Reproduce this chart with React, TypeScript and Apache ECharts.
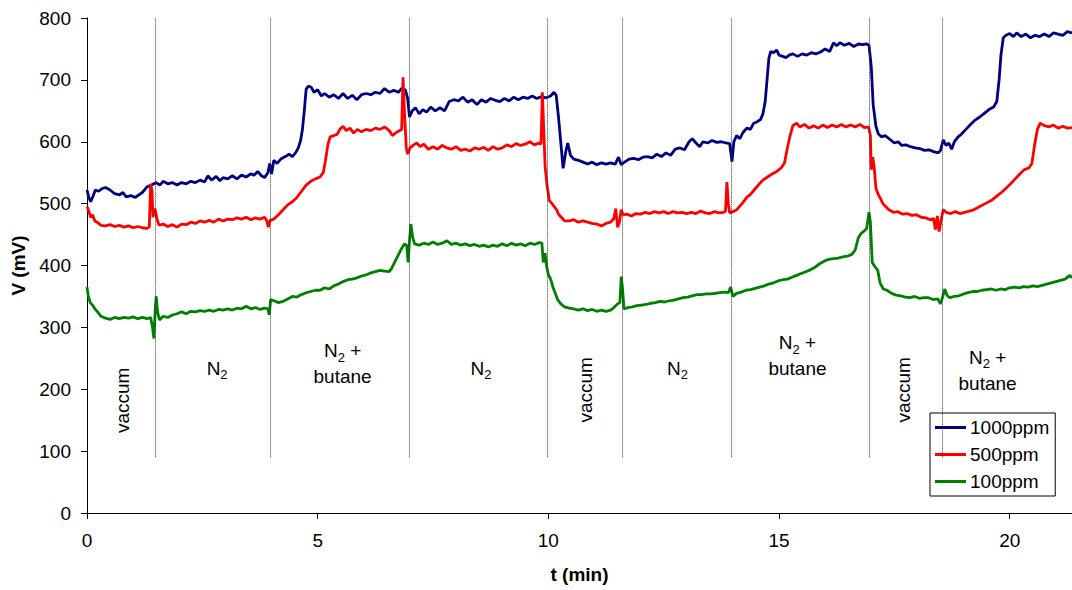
import React, { useEffect, useRef } from "react";
import * as echarts from "echarts";

// time (min), voltage (mV)
const series1000: number[][] = [
  [0,522],[0.04,510],[0.08,503],[0.13,512],[0.18,522],[0.25,520],[0.32,524],[0.4,526],[0.5,522],[0.6,516],[0.7,514],[0.78,518],[0.85,511],[0.95,513],[1.05,510],[1.12,514],[1.2,518],[1.3,527],[1.4,530],[1.5,534],[1.58,530],[1.65,536],[1.75,532],[1.85,534],[1.95,530],[2.05,534],[2.15,532],[2.25,536],[2.35,534],[2.45,538],[2.55,535],[2.62,545],[2.7,538],[2.8,544],[2.88,537],[2.95,542],[3.05,540],[3.15,545],[3.25,540],[3.35,546],[3.45,543],[3.55,548],[3.62,546],[3.7,552],[3.78,545],[3.85,542],[3.92,550],[3.96,565],[4.0,548],[4.05,570],[4.12,565],[4.2,572],[4.3,576],[4.38,580],[4.45,576],[4.52,582],[4.58,590],[4.63,602],[4.67,620],[4.71,650],[4.75,685],[4.8,690],[4.86,688],[4.92,680],[5.0,684],[5.08,674],[5.15,678],[5.25,672],[5.35,676],[5.45,670],[5.55,678],[5.65,670],[5.75,675],[5.85,668],[5.95,676],[6.05,678],[6.15,676],[6.25,680],[6.35,678],[6.45,686],[6.55,680],[6.65,683],[6.75,680],[6.82,686],[6.9,684],[6.95,670],[6.99,640],[7.05,650],[7.12,655],[7.2,645],[7.28,652],[7.36,648],[7.45,656],[7.55,650],[7.65,655],[7.75,650],[7.85,665],[7.95,668],[8.05,666],[8.15,672],[8.25,664],[8.35,668],[8.45,660],[8.55,668],[8.65,664],[8.75,670],[8.85,667],[8.95,665],[9.05,670],[9.15,666],[9.25,672],[9.35,668],[9.45,672],[9.55,670],[9.65,674],[9.75,670],[9.85,673],[9.95,671],[10.05,674],[10.12,680],[10.17,675],[10.22,640],[10.27,598],[10.32,557],[10.38,585],[10.42,598],[10.48,578],[10.55,572],[10.65,570],[10.75,567],[10.85,564],[10.95,567],[11.05,563],[11.15,566],[11.25,564],[11.35,566],[11.45,564],[11.52,575],[11.58,563],[11.65,567],[11.75,572],[11.85,573],[11.95,571],[12.05,575],[12.15,576],[12.25,574],[12.35,580],[12.45,576],[12.55,582],[12.65,578],[12.75,588],[12.85,590],[12.95,587],[13.05,600],[13.12,605],[13.2,598],[13.28,592],[13.35,600],[13.45,598],[13.55,602],[13.65,599],[13.75,600],[13.85,598],[13.93,597],[13.98,568],[14.02,600],[14.08,610],[14.15,605],[14.22,615],[14.3,622],[14.38,620],[14.45,630],[14.52,632],[14.6,636],[14.65,645],[14.7,665],[14.74,700],[14.78,735],[14.82,746],[14.88,744],[14.95,748],[15.0,740],[15.08,738],[15.15,736],[15.22,740],[15.3,742],[15.4,738],[15.5,742],[15.6,740],[15.7,744],[15.8,742],[15.9,745],[16.0,750],[16.1,746],[16.18,760],[16.25,755],[16.32,760],[16.42,756],[16.52,759],[16.62,754],[16.72,758],[16.82,757],[16.9,758],[16.95,756],[17.0,720],[17.04,660],[17.1,625],[17.15,613],[17.22,608],[17.3,610],[17.4,604],[17.5,598],[17.58,600],[17.66,594],[17.75,595],[17.85,592],[17.95,590],[18.05,589],[18.15,586],[18.25,587],[18.35,584],[18.45,582],[18.5,586],[18.56,603],[18.62,594],[18.68,598],[18.74,588],[18.8,600],[18.88,608],[18.95,612],[19.05,620],[19.15,628],[19.25,635],[19.35,640],[19.45,646],[19.55,652],[19.65,656],[19.72,665],[19.77,700],[19.81,740],[19.86,768],[19.92,772],[20.0,775],[20.08,770],[20.15,776],[20.25,770],[20.35,774],[20.45,768],[20.55,772],[20.65,770],[20.75,774],[20.85,770],[20.95,776],[21.05,774],[21.15,772],[21.25,778],[21.35,776],
];

const series500: number[][] = [
  [0,495],[0.04,488],[0.08,478],[0.12,482],[0.17,472],[0.22,470],[0.3,465],[0.4,464],[0.5,466],[0.6,463],[0.7,465],[0.8,462],[0.9,464],[1.0,461],[1.1,463],[1.2,461],[1.3,460],[1.35,462],[1.38,532],[1.41,520],[1.43,478],[1.47,492],[1.52,475],[1.56,465],[1.65,467],[1.75,463],[1.85,466],[1.95,462],[2.05,467],[2.15,466],[2.25,470],[2.35,468],[2.45,472],[2.55,470],[2.65,473],[2.75,470],[2.85,475],[2.95,472],[3.05,475],[3.15,474],[3.25,477],[3.35,475],[3.45,478],[3.55,474],[3.65,477],[3.75,475],[3.85,478],[3.9,472],[3.93,462],[3.97,473],[4.05,475],[4.15,482],[4.25,490],[4.35,498],[4.45,503],[4.55,510],[4.65,520],[4.75,530],[4.85,536],[4.95,540],[5.05,543],[5.12,550],[5.17,570],[5.22,595],[5.27,608],[5.35,610],[5.42,612],[5.48,620],[5.55,625],[5.62,618],[5.7,622],[5.78,614],[5.86,620],[5.95,616],[6.05,620],[6.15,618],[6.25,622],[6.35,620],[6.45,624],[6.55,618],[6.62,610],[6.7,615],[6.78,618],[6.82,620],[6.85,704],[6.88,650],[6.92,590],[6.95,580],[7.0,590],[7.08,595],[7.15,598],[7.22,592],[7.3,596],[7.4,588],[7.5,592],[7.6,588],[7.7,594],[7.8,590],[7.9,588],[8.0,592],[8.1,586],[8.2,588],[8.3,585],[8.4,590],[8.5,588],[8.6,591],[8.7,586],[8.8,592],[8.9,588],[9.0,590],[9.1,595],[9.2,592],[9.3,597],[9.4,594],[9.5,596],[9.6,600],[9.7,595],[9.8,598],[9.84,596],[9.87,680],[9.9,620],[9.93,560],[9.97,530],[10.02,505],[10.08,500],[10.13,495],[10.18,490],[10.22,483],[10.28,478],[10.35,472],[10.45,472],[10.55,474],[10.65,470],[10.75,472],[10.85,470],[10.95,468],[11.05,467],[11.15,464],[11.25,468],[11.35,470],[11.42,476],[11.46,492],[11.5,462],[11.54,470],[11.58,490],[11.62,482],[11.7,483],[11.8,480],[11.9,484],[12.0,483],[12.1,486],[12.2,484],[12.3,487],[12.4,485],[12.5,487],[12.6,484],[12.7,487],[12.8,485],[12.9,486],[13.0,484],[13.1,486],[13.2,484],[13.3,488],[13.4,485],[13.5,484],[13.6,487],[13.7,485],[13.8,486],[13.84,488],[13.87,535],[13.9,500],[13.93,485],[14.0,487],[14.08,490],[14.15,496],[14.22,502],[14.3,510],[14.38,515],[14.46,522],[14.55,530],[14.65,538],[14.75,543],[14.85,548],[14.95,552],[15.05,558],[15.12,566],[15.18,590],[15.24,610],[15.3,626],[15.38,630],[15.45,624],[15.55,628],[15.65,622],[15.75,626],[15.85,622],[15.95,627],[16.05,623],[16.15,627],[16.25,624],[16.35,628],[16.45,624],[16.55,627],[16.65,624],[16.75,628],[16.85,623],[16.94,624],[16.98,610],[17.0,555],[17.03,575],[17.06,560],[17.1,525],[17.15,515],[17.2,508],[17.25,500],[17.3,496],[17.38,490],[17.48,486],[17.58,487],[17.68,483],[17.78,484],[17.88,481],[17.98,482],[18.08,478],[18.18,477],[18.28,474],[18.35,476],[18.39,458],[18.43,480],[18.47,455],[18.52,476],[18.56,490],[18.62,486],[18.72,484],[18.82,487],[18.92,484],[19.02,486],[19.12,488],[19.22,490],[19.32,494],[19.42,498],[19.52,502],[19.62,506],[19.72,512],[19.82,518],[19.92,525],[20.02,532],[20.12,540],[20.22,548],[20.32,555],[20.42,558],[20.48,565],[20.54,595],[20.6,620],[20.66,630],[20.75,626],[20.85,624],[20.95,627],[21.05,622],[21.15,625],[21.25,622],[21.35,623],
];

const series100: number[][] = [
  [0,365],[0.03,350],[0.07,340],[0.12,336],[0.17,330],[0.23,325],[0.3,318],[0.4,315],[0.5,313],[0.6,316],[0.7,314],[0.8,316],[0.9,315],[1.0,317],[1.1,314],[1.2,316],[1.3,314],[1.38,316],[1.42,300],[1.45,282],[1.48,330],[1.5,350],[1.53,325],[1.57,312],[1.65,318],[1.75,316],[1.85,320],[1.95,322],[2.05,325],[2.15,322],[2.25,326],[2.35,325],[2.45,327],[2.55,326],[2.65,328],[2.75,326],[2.85,329],[2.95,328],[3.05,330],[3.15,328],[3.25,331],[3.35,330],[3.45,334],[3.55,330],[3.65,332],[3.75,329],[3.85,331],[3.92,330],[3.95,320],[3.98,345],[4.05,343],[4.15,340],[4.25,342],[4.35,346],[4.45,350],[4.55,349],[4.65,353],[4.75,356],[4.85,358],[4.95,360],[5.05,360],[5.15,364],[5.25,362],[5.35,367],[5.45,370],[5.55,374],[5.65,377],[5.75,378],[5.85,380],[5.95,383],[6.05,385],[6.15,388],[6.25,390],[6.35,392],[6.45,391],[6.55,390],[6.6,395],[6.7,410],[6.8,425],[6.88,435],[6.93,432],[6.96,405],[6.99,440],[7.02,467],[7.06,445],[7.1,435],[7.2,433],[7.3,436],[7.4,434],[7.5,438],[7.6,434],[7.7,436],[7.8,440],[7.9,434],[8.0,436],[8.1,433],[8.2,435],[8.3,432],[8.4,434],[8.5,431],[8.6,433],[8.7,430],[8.8,433],[8.9,431],[9.0,435],[9.1,432],[9.2,436],[9.3,433],[9.4,435],[9.5,432],[9.6,436],[9.7,434],[9.8,437],[9.86,436],[9.89,405],[9.93,420],[9.96,400],[10.0,385],[10.05,378],[10.1,365],[10.15,355],[10.2,345],[10.27,338],[10.35,333],[10.45,331],[10.55,330],[10.65,328],[10.75,330],[10.85,327],[10.95,329],[11.05,326],[11.15,328],[11.25,326],[11.35,328],[11.42,332],[11.5,338],[11.55,340],[11.58,382],[11.61,360],[11.64,330],[11.72,332],[11.82,333],[11.92,335],[12.02,336],[12.12,337],[12.22,339],[12.32,340],[12.42,342],[12.52,341],[12.62,343],[12.72,344],[12.82,346],[12.92,348],[13.02,349],[13.12,351],[13.22,353],[13.32,353],[13.42,354],[13.52,354],[13.62,355],[13.72,356],[13.82,357],[13.9,356],[13.95,365],[14.0,350],[14.08,355],[14.18,357],[14.28,360],[14.38,361],[14.48,363],[14.58,365],[14.68,367],[14.78,370],[14.88,372],[14.98,375],[15.08,377],[15.18,378],[15.28,381],[15.38,384],[15.48,387],[15.58,390],[15.68,393],[15.78,397],[15.88,403],[15.98,407],[16.08,410],[16.18,411],[16.28,412],[16.38,414],[16.48,415],[16.58,418],[16.65,425],[16.72,445],[16.78,452],[16.85,456],[16.9,460],[16.95,486],[16.98,470],[17.02,405],[17.08,398],[17.14,392],[17.19,372],[17.26,362],[17.34,360],[17.44,355],[17.54,352],[17.64,351],[17.74,349],[17.84,348],[17.94,350],[18.04,347],[18.14,348],[18.24,348],[18.34,345],[18.44,346],[18.5,338],[18.55,350],[18.59,362],[18.64,352],[18.7,348],[18.8,350],[18.9,351],[19.0,354],[19.1,356],[19.2,358],[19.3,358],[19.4,360],[19.5,361],[19.6,362],[19.7,360],[19.8,362],[19.9,361],[20.0,364],[20.1,365],[20.2,364],[20.3,366],[20.4,365],[20.5,367],[20.6,366],[20.7,368],[20.8,370],[20.9,372],[21.0,374],[21.1,376],[21.2,378],[21.3,384],[21.35,380],
];

const seriesNames = ["1000ppm", "500ppm", "100ppm"];
const seriesColors = ["#000080", "#FF0000", "#008000"];

// phase boundaries (min)
const phaseBoundaries = [1.49, 3.98, 6.98, 9.98, 11.6, 13.96, 16.95, 18.54];
const boundaryBottom = 90;
const boundaryTop = 800;

// phase labels: [t, V, text, vertical]
const phaseLabels: [number, number, string, boolean][] = [
  [0.78, 182, "vaccum", true],
  [2.82, 234, "N2", false],
  [5.54, 241, "N2+butane", false],
  [8.54, 234, "N2", false],
  [10.8, 199, "vaccum", true],
  [12.8, 234, "N2", false],
  [15.4, 254, "N2+butane", false],
  [17.7, 199, "vaccum", true],
  [19.52, 231, "N2+butane", false],
];

const xTicks = [0, 5, 10, 15, 20];
const xMax = 21.35;

const FONT = "'Liberation Sans', Arial, sans-serif";

export default function App() {
  const ref = useRef<HTMLDivElement>(null);
  useEffect(() => {
    if (!ref.current) return;
    const chart = echarts.init(ref.current, undefined, { renderer: "svg" });
    const dataSets = [series1000, series500, series100];
    const lineSeries = dataSets.map((d, i) => ({
      name: seriesNames[i],
      type: "line",
      data: d,
      symbol: "none",
      showSymbol: false,
      lineStyle: { color: seriesColors[i], width: 2.8 },
      itemStyle: { color: seriesColors[i] },
      z: 3,
    }));
    const fmt = (txt: string) => {
      if (txt === "N2") return "{n|N}{s|2}";
      if (txt === "N2+butane") return "{n|N}{s|2}{n| +}\n{n|butane}";
      return "{n|" + txt + "}";
    };
    const option: any = {
      animation: false,
      textStyle: { fontFamily: FONT },
      grid: { left: 87, top: 18, right: 0, bottom: 77, containLabel: false },
      legend: {
        data: seriesNames.map((n) => ({ name: n, icon: "rect" })),
        orient: "vertical",
        left: 930,
        top: 413,
        backgroundColor: "#ffffff",
        borderColor: "#000000",
        borderWidth: 1,
        borderRadius: 0,
        padding: [5, 6, 5, 5],
        itemGap: 8,
        itemWidth: 31,
        itemHeight: 3,
        textStyle: { fontSize: 19, color: "#000", fontFamily: FONT, padding: [0, 0, 0, -1] },
      },
      xAxis: [
        {
          type: "value",
          min: 0,
          max: xMax,
          interval: 5,
          axisLine: { show: true, onZero: false, lineStyle: { color: "#000", width: 1 } },
          axisTick: { show: true, length: 6, customValues: xTicks, lineStyle: { color: "#000" } },
          axisLabel: { fontSize: 19, color: "#000", margin: 18, customValues: xTicks, fontFamily: FONT },
          splitLine: { show: false },
          name: "t (min)",
          nameLocation: "middle",
          nameGap: 52,
          nameTextStyle: { fontSize: 19, fontWeight: "bold", color: "#000", fontFamily: FONT },
        },
        {
          type: "value",
          position: "top",
          min: 0,
          max: xMax,
          axisLine: { show: true, lineStyle: { color: "#000", width: 1 } },
          axisTick: { show: false },
          axisLabel: { show: false },
          splitLine: { show: false },
        },
      ],
      yAxis: {
        type: "value",
        min: 0,
        max: 800,
        interval: 100,
        axisLine: { show: true, lineStyle: { color: "#000", width: 1 } },
        axisTick: { show: true, length: 6, lineStyle: { color: "#000" } },
        axisLabel: { fontSize: 19, color: "#000", margin: 16, fontFamily: FONT },
        splitLine: { show: false },
        name: "V (mV)",
        nameLocation: "middle",
        nameGap: 58,
        nameTextStyle: { fontSize: 19, fontWeight: "bold", color: "#000", fontFamily: FONT },
      },
      series: [
        ...lineSeries,
        {
          name: "boundaries",
          type: "line",
          data: [],
          silent: true,
          markLine: {
            silent: true,
            symbol: "none",
            label: { show: false },
            lineStyle: { color: "#333", width: 1, type: [1, 1] },
            data: phaseBoundaries.map((t) => [
              { coord: [t, boundaryBottom] },
              { coord: [t, boundaryTop] },
            ]),
          },
          z: 1,
        },
        {
          name: "phases",
          type: "scatter",
          silent: true,
          symbolSize: 1,
          itemStyle: { color: "rgba(0,0,0,0)", opacity: 1 },
          data: phaseLabels.map((p) => ({
            value: [p[0], p[1]],
            label: {
              show: true,
              position: "inside",
              rotate: p[3] ? 90 : 0,
              formatter: fmt(p[2]),
              align: "center",
              verticalAlign: "middle",
              opacity: 1,
              color: "#000",
              textBorderWidth: 0,
              rich: {
                n: { fontSize: 19, lineHeight: 26, color: "#000", fontFamily: FONT, opacity: 1 },
                s: { fontSize: 13, lineHeight: 19, verticalAlign: "bottom", color: "#000", fontFamily: FONT, opacity: 1 },
              },
            },
          })),
          z: 2,
        },
      ],
    };
    chart.setOption(option);
    return () => chart.dispose();
  }, []);
  return (
    <div
      ref={ref}
      style={{ position: "absolute", left: 0, top: 0, width: 1072, height: 590, background: "#fff" }}
    />
  );
}
